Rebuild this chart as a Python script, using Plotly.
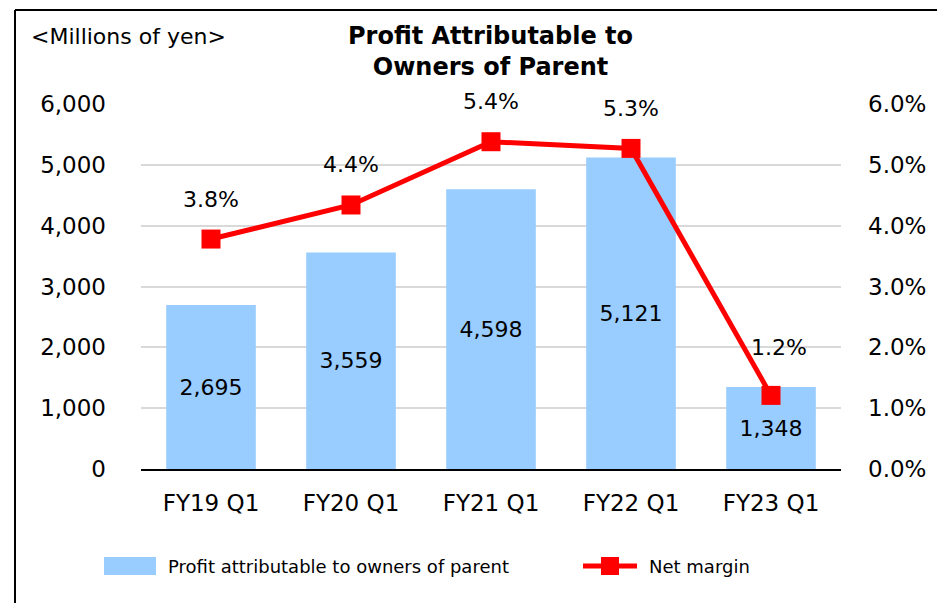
import plotly.graph_objects as go

categories = ["FY19 Q1", "FY20 Q1", "FY21 Q1", "FY22 Q1", "FY23 Q1"]
profit = [2695, 3559, 4598, 5121, 1348]
profit_labels = ["2,695", "3,559", "4,598", "5,121", "1,348"]
net_margin = [3.78, 4.34, 5.38, 5.27, 1.21]
margin_labels = ["3.8%", "4.4%", "5.4%", "5.3%", "1.2%"]
left_ticks = [0, 1000, 2000, 3000, 4000, 5000, 6000]
left_tick_labels = ["0", "1,000", "2,000", "3,000", "4,000", "5,000", "6,000"]
right_ticks = [0, 1, 2, 3, 4, 5, 6]
right_tick_labels = ["0.0%", "1.0%", "2.0%", "3.0%", "4.0%", "5.0%", "6.0%"]

FONT = "DejaVu Sans"
BLUE = "#99CCFF"
RED = "#FF0000"
TS = 23

fig = go.Figure()
fig.add_trace(go.Bar(
    x=categories, y=profit, marker_color=BLUE, marker_line_width=0,
    text=profit_labels, textposition="inside", insidetextanchor="middle",
    textfont=dict(family=FONT, size=22, color="black"),
    showlegend=False, yaxis="y",
))
fig.add_trace(go.Scatter(
    x=categories, y=net_margin, mode="lines+markers",
    line=dict(color=RED, width=5),
    marker=dict(symbol="square", size=19, color=RED),
    showlegend=False, yaxis="y2",
))

annotations = []
for i, (c, v, lab) in enumerate(zip(categories, net_margin, margin_labels)):
    annotations.append(dict(
        x=c, y=v, xref="x", yref="y2", text=lab, showarrow=False,
        yshift=48 if i == 4 else 40, xshift=8 if i == 4 else 0,
        font=dict(family=FONT, size=22, color="black"),
    ))

W0, H0 = 141, 469
def px(x):
    return (x - W0) / 700.0
def py(y):
    return (H0 - y) / 365.0

annotations.append(dict(
    x=px(490), y=py(52), xref="paper", yref="paper", showarrow=False,
    text="Profit Attributable to<br>Owners of Parent", align="center",
    xanchor="center", yanchor="middle",
    font=dict(family=FONT, size=24, color="black", weight="bold"),
))
annotations.append(dict(
    x=px(29), y=py(36), xref="paper", yref="paper", showarrow=False,
    text="&lt;Millions of yen&gt;", xanchor="left", yanchor="middle",
    font=dict(family=FONT, size=22, color="black"),
))
annotations.append(dict(
    x=px(166), y=py(566), xref="paper", yref="paper", showarrow=False,
    text="Profit attributable to owners of parent", xanchor="left", yanchor="middle",
    font=dict(family=FONT, size=18, color="black"),
))
annotations.append(dict(
    x=px(647), y=py(566), xref="paper", yref="paper", showarrow=False,
    text="Net margin", xanchor="left", yanchor="middle",
    font=dict(family=FONT, size=18, color="black"),
))

shapes = [
    dict(type="line", xref="paper", yref="paper", x0=px(15), y0=py(610), x1=px(15), y1=py(10),
         line=dict(color="black", width=2)),
    dict(type="line", xref="paper", yref="paper", x0=px(15), y0=py(10), x1=px(950), y1=py(10),
         line=dict(color="black", width=2)),
    dict(type="rect", xref="paper", yref="paper", x0=px(104), y0=py(575), x1=px(156), y1=py(557),
         fillcolor=BLUE, line=dict(width=0)),
    dict(type="line", xref="paper", yref="paper", x0=px(583), y0=py(566), x1=px(637), y1=py(566),
         line=dict(color=RED, width=5)),
    dict(type="rect", xref="paper", yref="paper", x0=px(601), y0=py(575), x1=px(619), y1=py(557),
         fillcolor=RED, line=dict(width=0)),
]

# page body has an 8px offset; size the figure so the plot area lands at 141..841 x 104..469
fig.update_layout(
    width=937, height=595,
    margin=dict(l=133, r=104, t=96, b=134),
    paper_bgcolor="white", plot_bgcolor="white",
    bargap=0.36,
    font=dict(family=FONT, size=TS, color="black"),
    xaxis=dict(showgrid=False, showline=True, linecolor="black", linewidth=2,
               ticks="", tickfont=dict(family=FONT, size=TS), ticklabelstandoff=12),
    yaxis=dict(range=[0, 6000], tickvals=left_ticks, ticktext=left_tick_labels,
               showgrid=True, gridcolor="#D9D9D9", gridwidth=2, zeroline=False,
               showline=False, ticks="", tickfont=dict(family=FONT, size=TS),
               ticklabelstandoff=34),
    yaxis2=dict(range=[0, 6], tickvals=right_ticks, ticktext=right_tick_labels,
                overlaying="y", side="right", showgrid=False, zeroline=False,
                showline=False, ticks="", tickfont=dict(family=FONT, size=TS),
                ticklabelstandoff=26),
    annotations=annotations,
    shapes=shapes,
    showlegend=False,
)

fig.write_html("out.html")
